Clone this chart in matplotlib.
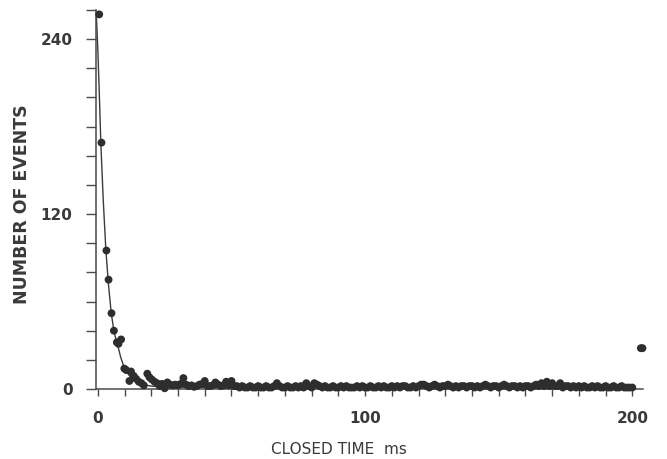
import matplotlib
matplotlib.use("Agg")
import matplotlib.pyplot as plt
from matplotlib.ticker import MultipleLocator

# ---- data ----
early_t = [0.5, 1.35, 3.2, 4.0, 5.1, 6.0, 7.1, 7.7, 8.7, 9.9, 10.6, 11.8, 12.4, 13.4,
           14.3, 15.3, 16.3, 17.2, 18.5, 19.3, 20.2, 21.2, 22.1, 23.1, 24.0, 25.0,
           26.0, 27.0, 28.0, 29.0, 30.0, 31.0, 32.0, 33.0, 34.0, 35.0, 36.0, 37.0,
           38.0, 39.0, 40.0, 41.0, 42.0, 43.0, 44.0, 45.0, 46.0, 47.0, 48.0, 49.0,
           50.0, 51.0]
early_n = [257, 169, 95, 75, 52, 40, 32, 31, 34, 14, 13, 5.5, 12, 9,
           7, 5, 4, 2.5, 10.5, 8, 6.5, 5, 4, 2, 3.5, 0.5,
           4.5, 3, 2.5, 3, 2.5, 3.5, 7.5, 3, 2, 2.5, 1.5, 2,
           3, 3.5, 5.5, 2, 2, 2.5, 4.5, 3, 2, 2.5, 5, 2.5,
           5.5, 2]

base_start = 52
base_n = [2, 1, 2, 1, 1, 2, 1, 1, 2, 1,
          1, 2, 1, 1, 2, 4, 2, 1, 1, 2,
          1, 1, 2, 1, 2, 1, 4, 2, 1, 4,
          3, 2, 1, 2, 1, 1, 2, 1, 1, 2,
          1, 2, 1, 1, 1, 2, 1, 2, 1, 1,
          2, 1, 1, 2, 1, 2, 1, 1, 2, 1,
          2, 1, 2, 2, 1, 1, 2, 1, 2, 3,
          3, 2, 1, 2, 3, 2, 1, 2, 2, 3,
          2, 1, 2, 1, 2, 2, 1, 2, 2, 1,
          2, 1, 2, 3, 2, 1, 2, 2, 1, 2,
          3, 2, 1, 2, 2, 1, 2, 1, 2, 2,
          1, 2, 3, 2, 4, 2, 5, 2, 4, 2,
          2, 4, 1, 2, 2, 1, 2, 1, 2, 1,
          2, 1, 1, 2, 1, 2, 1, 1, 2, 1,
          1, 2, 1, 1, 2, 1, 1, 1, 1]
base_t = [base_start + i for i in range(len(base_n))]

overflow_t = [203.2, 203.8]
overflow_n = [28, 28]

fit_t = [-0.6, 0, 0.5, 1.1, 2, 3, 4, 5, 6, 7, 7.7, 8.5, 9.6, 11, 12.5, 14, 16,
         18, 20, 23, 26, 30, 40, 60, 100, 150, 200]
fit_n = [258, 232, 205, 169, 130, 95, 71, 52, 40, 32, 28, 22, 16, 11, 7.5, 5.2,
         3.5, 2.6, 2.0, 1.6, 1.4, 1.3, 1.2, 1.1, 1.0, 1.0, 1.0]

xticks = [0, 100, 200]
yticks = [0, 120, 240]

# ---- figure ----
ink = "#2e2e2e"
txt = "#3a3a3a"
fig = plt.figure(figsize=(6.67, 4.59), dpi=100)
ax = fig.add_axes([96 / 667, 1 - 389 / 459, (643 - 96) / 667, (389 - 10) / 459])

ax.plot(fit_t, fit_n, color="#3c3c3c", lw=1.0, zorder=2, clip_on=False)
pts_t = early_t + base_t + overflow_t
pts_n = early_n + base_n + overflow_n
ax.scatter(pts_t, pts_n, s=32, color=ink, edgecolors="none", zorder=3, clip_on=False)

ax.set_xlim(-0.7, 204)
ax.set_ylim(0, 260)

for s in ["top", "right"]:
    ax.spines[s].set_visible(False)
for s in ["left", "bottom"]:
    ax.spines[s].set_color("#4a4a4a")
    ax.spines[s].set_linewidth(1.1)

ax.set_xticks(xticks)
ax.set_yticks(yticks)
ax.xaxis.set_minor_locator(MultipleLocator(10))
ax.yaxis.set_minor_locator(MultipleLocator(20))
ax.tick_params(axis="both", which="both", direction="out", color="#4a4a4a", width=1.0)
ax.tick_params(axis="x", which="both", length=5)
ax.tick_params(axis="y", which="both", length=7)
ax.tick_params(axis="x", which="major", pad=11)
ax.tick_params(axis="y", which="major", pad=10)
for lab in ax.get_xticklabels() + ax.get_yticklabels():
    lab.set_fontsize(11)
    lab.set_fontweight("bold")
    lab.set_color(txt)
    lab.set_family("DejaVu Sans")

fig.text(22 / 667, 1 - 204 / 459, "NUMBER OF EVENTS", rotation=90, ha="center",
         va="center", fontsize=12.5, fontweight="bold", color=txt, family="DejaVu Sans")
fig.text(339 / 667, 1 - 449 / 459, "CLOSED TIME  ms", ha="center", va="center",
         fontsize=11, color=txt, family="DejaVu Sans")

fig.savefig("out.png", dpi=100, facecolor="white")
